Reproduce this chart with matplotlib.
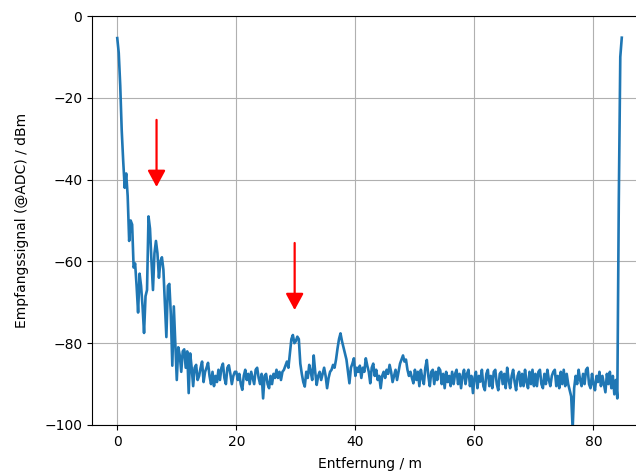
import numpy as np
import matplotlib
matplotlib.use('Agg')
from matplotlib import pyplot as plt

# range bins, 0.25 m spacing
step = 0.25

# received level per range bin in dBm (one row = 2 m)
pegel = [
    -5.4, -9, -17, -28, -35.5, -42, -38.5, -44,
    -55, -50, -51, -61.5, -60.5, -66, -72.5, -63,
    -66, -71, -77.5, -68.5, -67, -49, -52, -60,
    -67, -58, -55, -58, -64, -60, -59, -62,
    -70, -78.5, -66, -65.5, -73, -85.5, -71, -80,
    -89, -81, -83, -87, -82, -81.5, -86, -82,
    -92.2, -82.5, -86, -90.5, -86, -85.3, -89, -88,
    -86, -84.5, -89.5, -87, -86, -84.8, -88, -90,
    -87, -90.5, -88, -89.5, -86.5, -89, -86, -85,
    -88.5, -90, -86, -85.4, -87.5, -90, -88, -87,
    -87, -89, -87.5, -90, -91.4, -88, -86.5, -89,
    -87.5, -90, -87, -88.5, -90, -86.5, -86, -88.5,
    -90, -87.5, -93.5, -88, -87.5, -90, -91, -88,
    -90, -87.5, -88.5, -86.5, -88.5, -87, -89, -87,
    -86.5, -85.5, -84.5, -86, -82.5, -79, -78, -80,
    -79.5, -78.4, -79, -85, -87.5, -89.5, -90.6, -87,
    -88.5, -85.3, -87, -89, -83, -87, -90.2, -88,
    -87, -89, -87.5, -86, -88, -91, -88.5, -87,
    -86.5, -85.3, -86, -84, -81.3, -79, -77.6, -79.5,
    -81, -82.5, -84, -87, -89.8, -86, -85, -83.7,
    -88, -86, -87, -85.5, -88.5, -86, -87, -83.7,
    -85.5, -87, -89.8, -86, -85, -88, -86.5, -89,
    -88, -91, -88, -87, -88.5, -86.5, -87.5, -85.3,
    -87, -89.5, -88, -86.5, -89, -87, -85, -84,
    -83, -84.5, -84, -86.5, -88, -87, -88.5, -89.8,
    -86.5, -89, -87, -90.5, -86.5, -88.5, -90, -86,
    -84.1, -88, -90.5, -87, -86.5, -90, -87, -89,
    -86, -86.6, -90, -87.5, -91, -87, -89.5, -88,
    -90.5, -87, -90, -87.5, -86.5, -90, -87.5, -91,
    -88, -86.5, -90, -87.5, -86.5, -90.5, -88, -92.2,
    -88.5, -87, -91, -88, -89.4, -86.5, -90.5, -91.5,
    -87.5, -86.5, -90.5, -88, -91, -87, -86.5, -90,
    -91.5, -87.5, -87, -90, -87.5, -91, -86, -89,
    -91, -88, -86.5, -89.5, -91.5, -88, -87, -90.5,
    -87.5, -90.5, -86.5, -89.5, -91, -87, -90, -86.5,
    -90.5, -87.5, -90.5, -87, -86.5, -90, -91, -87.5,
    -90, -86.5, -89, -90.5, -88, -87, -86.5, -90.5,
    -88, -91, -87, -90, -86.5, -90.5, -87.5, -90,
    -91.5, -93, -101, -91, -88, -90, -86.5, -89,
    -90.5, -87.5, -90, -86.5, -86, -90, -91, -87.5,
    -90, -91.5, -88, -89.5, -87, -90.5, -88, -90,
    -92, -87.5, -90, -87, -91, -88, -92.5, -89,
    -93.5, -45, -10, -5.3,
]
entfernung = np.arange(len(pegel)) * step

# red markers: x, y start, y tip
pfeile = [(6.6, -25.4, -41.8), (29.8, -55.5, -71.9)]

fig = plt.figure(figsize=(6.36, 4.72), dpi=100)
ax = fig.add_axes([0.1447, 0.0996, 0.8726, 0.8665])
ax.plot(entfernung, pegel, linewidth=1.9)
for x, y0, y1 in pfeile:
    ax.annotate('', xy=(x, y1), xytext=(x, y0),
                arrowprops=dict(arrowstyle='-|>,head_length=0.5,head_width=0.27',
                                color='red', lw=1.6, mutation_scale=20,
                                shrinkA=0, shrinkB=0))
ax.set_ylim(-100, 0)
ax.grid(True)
ax.set_xlabel('Entfernung / m', labelpad=6)
ax.set_ylabel('Empfangssignal (@ADC) / dBm', labelpad=11)
fig.savefig('out.png', dpi=100)
